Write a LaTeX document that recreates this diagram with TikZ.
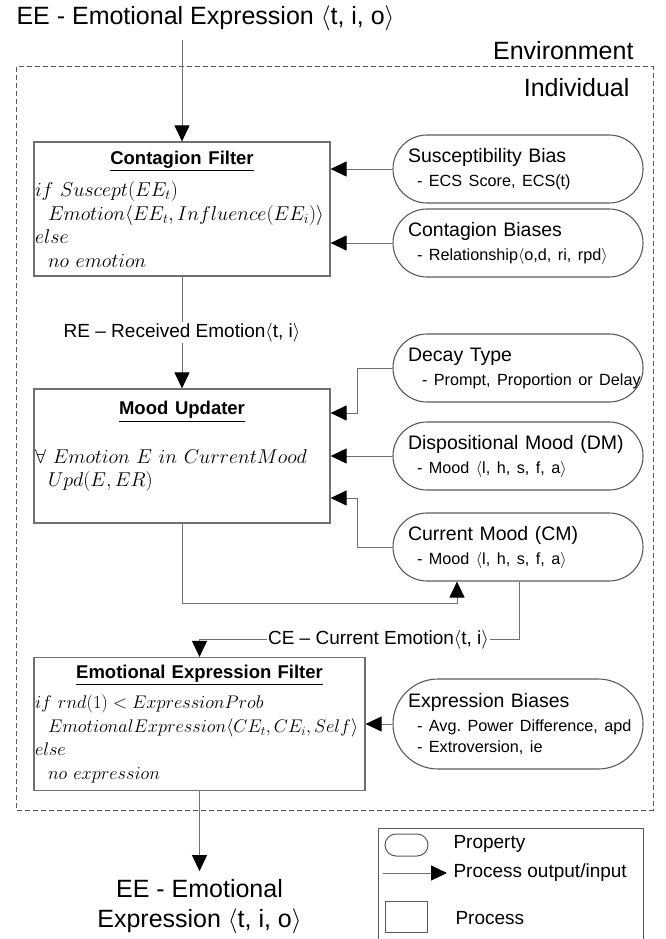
\documentclass[tikz,border=0pt]{standalone}
\usepackage{fix-cm}
\usepackage{amsmath}
\usepackage{amssymb}
\usepackage{fontspec}
\setmainfont{Liberation Sans}
\usepackage{tikz}
\usetikzlibrary{arrows.meta}

\definecolor{linegray}{RGB}{112,112,112}
\definecolor{boxgray}{RGB}{90,90,90}

\newcommand{\ptitle}[1]{\makebox[\linewidth]{\fontsize{18.5}{23}\selectfont\underline{\textbf{#1}}}}
\newcommand{\psub}[1]{\hspace*{9pt}\makebox[0pt][l]{\fontsize{16.2}{24}\selectfont #1}}

\begin{document}
\begin{tikzpicture}[x=1pt,y=-1pt,>={Triangle[length=16pt,width=15pt,color=black]},
  cn/.style={->,draw=linegray,line width=1pt},
  proc node/.style={rectangle,draw=linegray,line width=1.2pt,minimum width=296pt,minimum height=134pt,
    text width=294pt,inner xsep=1pt,align=left,font=\fontsize{20}{23.5}\selectfont},
  prop node/.style={rectangle,draw=boxgray,line width=1.1pt,rounded corners=34pt,minimum width=250pt,
    minimum height=68pt,text width=220pt,align=left,font=\fontsize{19.5}{24}\selectfont},
  big/.style={font=\fontsize{25}{30}\selectfont},
  lbl/.style={fill=white,inner sep=1pt,font=\fontsize{19}{24}\selectfont},
  lgd/.style={font=\fontsize{19}{24}\selectfont}]

  \useasboundingbox (0,0) rectangle (665,939);

  \node[big,anchor=base] (0) at (205.5,25) {EE - Emotional Expression $\langle$t, i, o$\rangle$};
  \node[big,anchor=base east] (env) at (637,60) {Environment};
  \node[big,anchor=base east] (ind) at (633,97) {Individual};
  \draw[draw=boxgray,line width=1pt,dash pattern=on 5pt off 3pt] (16,67) rectangle (653,810);

  \node[proc node] (1) at (182,209) {\ptitle{Contagion Filter}\\[9pt]
    $if\ Suscept(EE_t)$\\
    \hspace*{13pt}$Emotion\langle EE_t, Influence(EE_i)\rangle$\\
    $else$\\
    \hspace*{13pt}$no\ emotion$};
  \node[prop node] (2) [right of=1, node distance=336pt, yshift=40pt] {Susceptibility Bias\\ \psub{- ECS Score, ECS(t)}};
  \node[prop node] (3) [below of=2, node distance=74pt] {Contagion Biases\\ \psub{- Relationship$\langle$o,d, ri, rpd$\rangle$}};

  \node[proc node] (4) [below of=1, node distance=247pt] {\ptitle{Mood Updater}\\[25pt]
    $\forall\ Emotion\ E\ in\ CurrentMood$\\
    \hspace*{13pt}$Upd(E,ER)$\\ \mbox{}};
  \node[prop node] (6) [right of=4, node distance=336pt] {Dispositional Mood (DM)\\ \psub{- Mood $\langle$l, h, s, f, a$\rangle$}};
  \node[prop node] (5) [above of=6, node distance=88pt] {Decay Type\\ \psub{\hspace*{5pt}- Prompt, Proportion or Delay}};
  \node[prop node] (7) [below of=6, node distance=91pt] {Current Mood (CM)\\ \psub{- Mood $\langle$l, h, s, f, a$\rangle$}};

  \node[proc node,minimum width=331pt,text width=329pt,minimum height=133pt,font=\fontsize{18.3}{23.5}\selectfont] (8)
    [below of=4, node distance=268pt, xshift=17.5pt] {\ptitle{Emotional Expression Filter}\\[7pt]
    $if\ rnd(1) < ExpressionProb$\\
    \hspace*{13pt}$EmotionalExpression\langle CE_t, CE_i, Self\rangle$\\
    $else$\\
    \hspace*{13pt}$no\ expression$};
  \node[prop node,minimum height=90pt,rounded corners=45pt] (9) [right of=8, node distance=318.5pt]
    {Expression Biases\\ \psub{- Avg.\ Power Difference, apd}\\[-3pt] \psub{- Extroversion, ie}};

  \node[big,align=center,inner sep=8pt] (10) [below of=8, node distance=182.5pt] {EE - Emotional\\Expression $\langle$t, i, o$\rangle$};

  % process inputs and outputs
  \draw[cn,shorten <=5pt] (0.south -| 1.north) -- (1);
  \path[cn]
    (1) edge node[lbl] {RE -- Received Emotion$\langle$t, i$\rangle$} (4)
    (2) edge (2 -| 1.east)
    (3) edge (3 -| 1.east)
    (6) edge (4)
    (9) edge (8)
    (8) edge (10);
  \draw[cn] (5.west) -- ++(-35,0) |- ([yshift=43pt]4.east);
  \draw[cn] (7.west) -- ++(-35,0) |- ([yshift=-42pt]4.east);
  \draw[cn] (4.south) -- ++(0,80) -| ([xshift=-61pt]7.south);
  \draw[cn] ([xshift=1pt]7.south) -- ++(0,58) -| node[lbl,pos=0.22] {CE -- Current Emotion$\langle$t, i$\rangle$} (8.north);

  % legend
  \draw[draw=boxgray,line width=1pt] (378,939) |- (643,828) -- (643,939);
  \node[draw=boxgray,line width=1pt,rounded corners=11pt,minimum width=43pt,minimum height=22pt] (lp) at (406.5,845) {};
  \node[lgd,anchor=west] (lpt) at (450,844) {Property};
  \coordinate (la) at (383,873);
  \coordinate (lb) at (447,873);
  \draw[cn] (la) -- (lb);
  \node[lgd,anchor=west] (lat) at (450,873) {Process output/input};
  \node[draw=boxgray,line width=1pt,minimum width=42pt,minimum height=31pt] (lq) at (406,916.5) {};
  \node[lgd,anchor=west] (lqt) at (452,918) {Process};
\end{tikzpicture}
\end{document}
